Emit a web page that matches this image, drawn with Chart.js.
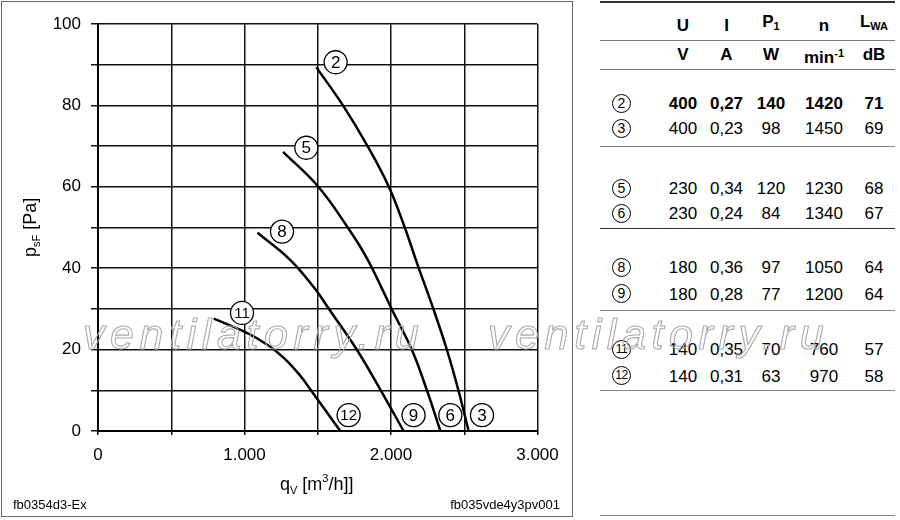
<!DOCTYPE html>
<html lang="de">
<head>
<meta charset="UTF-8" />
<title>Kennlinien</title>
<script src="https://cdn.jsdelivr.net/npm/chart.js@4"></script>
<style>
  body {
    margin: 0;
    width: 900px;
    height: 520px;
    position: relative;
    overflow: hidden;
    background: #fff;
    color: #000;
    font-family: "Liberation Sans", Arial, sans-serif;
  }
  #chart { position: absolute; left: 0; top: 0; }
  .panel {
    position: absolute;
    left: 1px; top: 1px;
    width: 570px; height: 514px;
    border: 1.5px solid #666;
    pointer-events: none;
  }
  .foot { position: absolute; top: 497px; font-size: 13px; }
  .watermark {
    position: absolute;
    top: 310px;
    font-size: 43px;
    font-style: italic;
    letter-spacing: 5.6px;
    color: transparent;
    -webkit-text-stroke: 1.1px #aaa;
    white-space: nowrap;
    pointer-events: none;
  }
  #specs {
    position: absolute;
    left: 600px; top: 1px;
    width: 295px;
    font-size: 17px;
  }
  .row { display: flex; box-sizing: border-box; }
  .row > div { text-align: center; white-space: nowrap; }
  .row > div:nth-child(1) { width: 60px; text-align: left; }
  .row > div:nth-child(2) { width: 46px; }
  .row > div:nth-child(3) { width: 41px; }
  .row > div:nth-child(4) { width: 48px; }
  .row > div:nth-child(5) { width: 58px; }
  .row > div:nth-child(6) { width: 42px; }
  .h1 { height: 40px; border-top: 2px solid #333; border-bottom: 1.5px solid #777;
        font-weight: bold; align-items: flex-end; padding-bottom: 4px; line-height: 20px; }
  .h2 { height: 29px; border-bottom: 1.5px solid #777; font-weight: bold;
        align-items: center; line-height: 20px; }
  .r { line-height: 25px; align-items: flex-start; }
  .end { border-bottom: 1.5px solid #333; }
  .grey { border-bottom-color: #888; }
  .bold { font-weight: bold; }
  .circ {
    display: inline-block;
    box-sizing: border-box;
    width: 19px; height: 19px;
    margin: 3px 0 0 12px;
    border: 1.2px solid #000;
    border-radius: 50%;
    font-size: 14px;
    font-weight: normal;
    line-height: 17px;
    text-align: center;
    vertical-align: top;
  }
  .circ.two { font-size: 12px; letter-spacing: -0.5px; }
  sub { font-size: 11px; vertical-align: -3px; }
  sup { font-size: 11px; vertical-align: 6px; }
</style>
</head>
<body>
<canvas id="chart" width="575" height="520"></canvas>
<div class="panel"></div>
<div class="foot" style="left:13px">fb0354d3-Ex</div>
<div class="foot" style="right:340px">fb035vde4y3pv001</div>
<div id="specs"></div>
<div class="watermark" style="left:83px">ventilatorry.ru</div>
<div class="watermark" style="left:488px">ventilatorry.ru</div>

<script>
  // Kennlinien (q_V in m3/h, p_sF in Pa)
  const curve2Q = [1490, 1672, 1840, 1985, 2094, 2175, 2291, 2382, 2461, 2530];
  const curve2P = [89.4, 80, 70, 60, 50, 41.5, 29.8, 19.9, 9.9, 0];
  const curve5Q = [1263, 1500, 1705, 1836, 2007, 2143, 2246, 2337];
  const curve5P = [68.6, 60.2, 50, 42.4, 29.8, 19.9, 9.9, 0];
  const curve8Q = [1089, 1313, 1480, 1580, 1768, 1930, 2086];
  const curve8P = [48.7, 42, 35, 29.8, 19.9, 10, 0];
  const curve11Q = [790, 1000, 1150, 1270, 1380, 1450, 1550, 1654];
  const curve11P = [27.6, 24.4, 21.3, 17.9, 13.6, 10.2, 5.2, 0];

  // Kreis-Markierungen an den Kurven
  const markText = ["2", "5", "8", "11", "12", "9", "6", "3"];
  const markQ = [1622, 1422, 1256, 983, 1711, 2154, 2405, 2621];
  const markP = [90.6, 69.6, 49, 29, 3.9, 3.9, 3.9, 3.9];

  const xTicks = [0, 1000, 2000, 3000];
  const yTicks = [0, 20, 40, 60, 80, 100];

  // Tabelle
  const rowIds = ["2", "3", "5", "6", "8", "9", "11", "12"];
  const voltage = [400, 400, 230, 230, 180, 180, 140, 140];
  const current = ["0,27", "0,23", "0,34", "0,24", "0,36", "0,28", "0,35", "0,31"];
  const power = [140, 98, 120, 84, 97, 77, 70, 63];
  const speed = [1420, 1450, 1230, 1340, 1050, 1200, 760, 970];
  const noise = [71, 69, 68, 67, 64, 64, 57, 58];

  // Zeilenhoehen der Tabelle (Luecke, Zeile 1, Zeile 2 je Gruppe)
  const gapH = [21, 28.5, 26, 26];
  const firstH = [25, 25, 26, 26];
  const secondH = [31, 28.5, 30, 28];
  const secondLH = [25, 25, 28, 28];

  function buildTable() {
    let html = '<div class="row h1"><div></div><div>U</div><div>I</div><div>P<sub>1</sub></div><div>n</div><div>L<sub>WA</sub></div></div>';
    html += '<div class="row h2"><div></div><div>V</div><div>A</div><div>W</div><div>min<sup>-1</sup></div><div>dB</div></div>';
    for (let g = 0; g < 4; g++) {
      html += `<div style="height:${gapH[g]}px"></div>`;
      for (let k = 0; k < 2; k++) {
        const i = g * 2 + k;
        let cls = "row r";
        let style = `height:${firstH[g]}px`;
        if (k === 1) {
          cls += " end";
          if (g !== 1) cls += " grey";
          style = `height:${secondH[g]}px;line-height:${secondLH[g]}px`;
        }
        if (i === 0) cls += " bold";
        const two = rowIds[i].length > 1 ? " two" : "";
        html += `<div class="${cls}" style="${style}"><div><span class="circ${two}">${rowIds[i]}</span></div>` +
          `<div>${voltage[i]}</div><div>${current[i]}</div><div>${power[i]}</div>` +
          `<div>${speed[i]}</div><div>${noise[i]}</div></div>`;
      }
    }
    html += '<div class="row end grey" style="height:125px"></div>';
    document.getElementById("specs").innerHTML = html;
  }
  buildTable();

  const FONT = "'Liberation Sans', Arial, sans-serif";
  Chart.defaults.font.family = FONT;
  Chart.defaults.color = "#000";

  function pts(qs, ps) {
    return qs.map((q, i) => ({ x: q, y: ps[i] }));
  }

  const curveStyle = {
    showLine: true,
    borderColor: "#000",
    borderWidth: 2.5,
    pointRadius: 0,
    tension: 0.4,
    fill: false,
  };

  const markLabels = {
    id: "markLabels",
    afterDatasetsDraw(chart) {
      const ctx = chart.ctx;
      const meta = chart.getDatasetMeta(0);
      ctx.save();
      ctx.fillStyle = "#000";
      ctx.textAlign = "center";
      ctx.textBaseline = "middle";
      meta.data.forEach((el, i) => {
        const t = markText[i];
        ctx.font = (t.length > 1 ? "15px " : "17px ") + FONT;
        ctx.fillText(t, el.x, el.y + 1);
      });
      ctx.restore();
    },
  };

  const axisTitles = {
    id: "axisTitles",
    afterDraw(chart) {
      const ctx = chart.ctx;
      ctx.save();
      ctx.fillStyle = "#000";
      ctx.textBaseline = "alphabetic";
      // x-Achse
      let x = 280;
      const yb = 490;
      ctx.font = "18px " + FONT;
      ctx.fillText("q", x, yb);
      x += ctx.measureText("q").width;
      ctx.font = "11px " + FONT;
      ctx.fillText("V", x, yb + 4);
      x += ctx.measureText("V").width + 5;
      ctx.font = "18px " + FONT;
      ctx.fillText("[m", x, yb);
      x += ctx.measureText("[m").width;
      ctx.font = "11px " + FONT;
      ctx.fillText("3", x, yb - 8);
      x += ctx.measureText("3").width;
      ctx.font = "18px " + FONT;
      ctx.fillText("/h]]", x, yb);
      // y-Achse
      ctx.translate(36, 257);
      ctx.rotate(-Math.PI / 2);
      let px = 0;
      ctx.font = "18px " + FONT;
      ctx.fillText("p", px, 0);
      px += ctx.measureText("p").width;
      ctx.font = "11px " + FONT;
      ctx.fillText("sF", px, 4);
      px += ctx.measureText("sF").width + 5;
      ctx.font = "18px " + FONT;
      ctx.fillText("[Pa]", px, 0);
      ctx.restore();
    },
  };

  new Chart(document.getElementById("chart"), {
    type: "scatter",
    data: {
      datasets: [
        {
          data: pts(markQ, markP),
          pointRadius: 11.5,
          pointHoverRadius: 11.5,
          pointBackgroundColor: "#fff",
          pointBorderColor: "#000",
          pointBorderWidth: 1.3,
          showLine: false,
        },
        { data: pts(curve2Q, curve2P), ...curveStyle },
        { data: pts(curve5Q, curve5P), ...curveStyle },
        { data: pts(curve8Q, curve8P), ...curveStyle },
        { data: pts(curve11Q, curve11P), ...curveStyle },
      ],
    },
    options: {
      responsive: false,
      animation: false,
      layout: { padding: { left: 0, top: 24, right: 37.5, bottom: 0 } },
      plugins: { legend: { display: false }, tooltip: { enabled: false } },
      scales: {
        x: {
          type: "linear",
          min: 0,
          max: 3000,
          afterFit(s) { s.height = 89; },
          ticks: {
            stepSize: 500,
            autoSkip: false,
            maxRotation: 0,
            padding: 10,
            font: { size: 17 },
            callback: (v) => (xTicks.includes(v) ? (v === 0 ? "0" : v / 1000 + ".000") : ""),
          },
          grid: { color: "#111", lineWidth: 1.5, tickLength: 4, tickColor: "#111" },
          border: { color: "#000", width: 2 },
        },
        y: {
          min: 0,
          max: 100,
          afterFit(s) { s.width = 98; },
          ticks: {
            stepSize: 10,
            autoSkip: false,
            padding: 10,
            font: { size: 17 },
            callback: (v) => (yTicks.includes(v) ? String(v) : ""),
          },
          grid: { color: "#111", lineWidth: 1.5, tickLength: 7, tickColor: "#111" },
          border: { color: "#000", width: 2 },
        },
      },
    },
    plugins: [markLabels, axisTitles],
  });
</script>
</body>
</html>
